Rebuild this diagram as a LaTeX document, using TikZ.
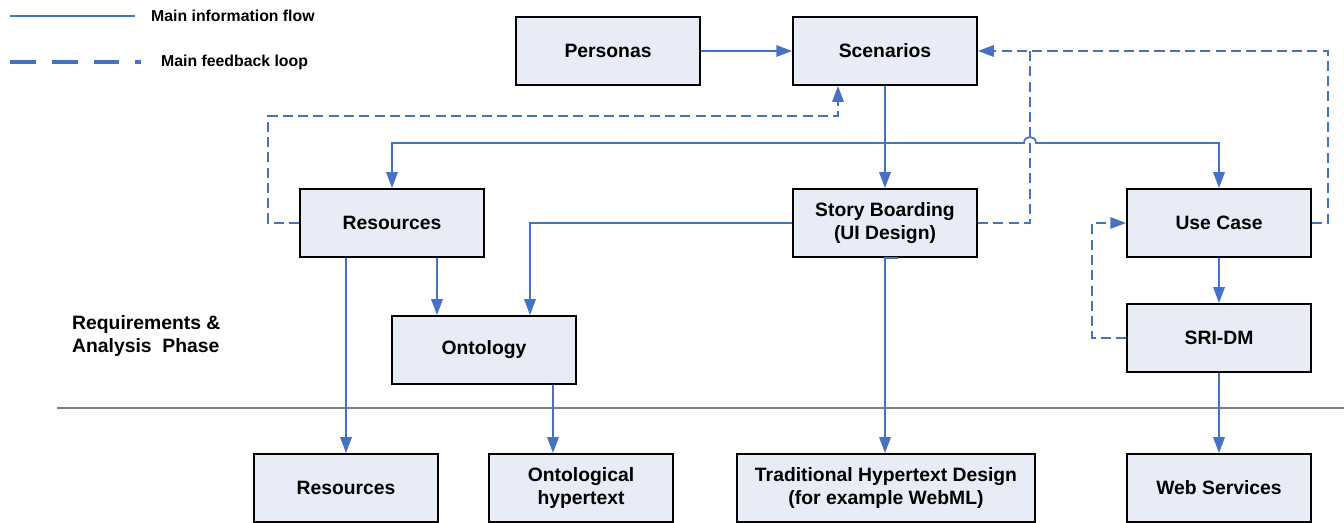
\documentclass[tikz,border=0pt]{standalone}
\usepackage{fontspec}
\setmainfont{Liberation Sans}
\usepackage{xcolor}
\usetikzlibrary{arrows.meta,calc}

\definecolor{boxfill}{RGB}{231,236,247}
\definecolor{linkblue}{RGB}{70,114,196}
\definecolor{divgray}{RGB}{125,125,125}

\begin{document}
\begin{tikzpicture}[
    x=0.02cm, y=-0.02cm,
    stage/.style={rectangle, draw=black, line width=1.1pt, fill=boxfill, align=center, minimum width=3.68cm, minimum height=1.36cm, font=\fontsize{11}{13.6}\selectfont\bfseries},
    widestage/.style={stage, minimum width=5.96cm},
    flow/.style={draw=linkblue, line width=1pt, -{Triangle[length=9pt,width=6.5pt]}},
    feedback/.style={flow, dash pattern=on 5.7pt off 3pt},
    legendtext/.style={anchor=west, font=\fontsize{9}{11}\selectfont\bfseries},
    divider/.style={draw=divgray, line width=0.9pt}
]
\useasboundingbox (0,0) rectangle (1344,523);

% Legend
\draw[linkblue, line width=0.8pt] (10,16) -- (135,16);
\node[legendtext] (legflow) at (145,16) {Main information flow};
\draw[linkblue, line width=2pt, dash pattern=on 14.7pt off 9.1pt] (10,62) -- (141,62);
\node[legendtext] (legloop) at (155,62) {Main feedback loop};

% Requirements stage
\node[stage] (personas) at (608,51) {Personas};
\node[stage] (scenarios) at (885,51) {Scenarios};
\node[stage] (resources) at (392,223) {Resources};
\node[stage] (storyboard) at (885,223) {Story Boarding\\(UI Design)};
\node[stage] (usecase) at (1219,223) {Use Case};
\node[stage] (ontology) at (484,350) {Ontology};
\node[stage] (sridm) at (1219,338) {SRI-DM};

\node[anchor=west, align=left, font=\fontsize{11}{13.6}\selectfont\bfseries] (phase) at (66,336) {Requirements \&\\Analysis~~Phase};

% Phase boundary
\draw[divider] (57,408) -- (1344,408);

% Design stage
\node[stage] (resout) at (346,488) {Resources};
\node[stage] (ontohyper) at (581,488) {Ontological\\hypertext};
\node[widestage] (tradhyper) at (886,488) {Traditional Hypertext Design\\(for example WebML)};
\node[stage] (websvc) at (1219,488) {Web Services};

% Information flow
\coordinate (split) at (885,143);
\draw[flow] (personas) -- (scenarios);
\draw[flow] (scenarios) -- (storyboard);
\draw[flow] (split) -| (resources);
\draw[flow] (split) -- (1024,143) .. controls (1024,135) and (1036,135) .. (1036,143) -| (usecase);
\draw[flow] (storyboard.west) -| (ontology.north -| 530,0);
\draw[flow] (resources.south -| 346,0) -- (resout.north -| 346,0);
\draw[flow] (resources.south -| 437,0) -- (ontology.north -| 437,0);
\draw[flow] (ontology.south -| 553,0) -- (ontohyper.north -| 553,0);
\draw[flow] (storyboard.south -| 898,0) -- (storyboard.south) -- (tradhyper.north -| 885,0);
\draw[flow] (usecase) -- (sridm);
\draw[flow] (sridm) -- (websvc);

% Feedback loops
\draw[feedback] (resources.west) -| (268,116) -| (scenarios.south -| 838,0);
\draw[feedback, -] (storyboard.east) -| (1030,51);
\draw[feedback] (usecase.east) -| (1328,51) -- (scenarios.east);
\draw[feedback] (sridm.west) -| (1092,223) -- (usecase.west);

\end{tikzpicture}
\end{document}
